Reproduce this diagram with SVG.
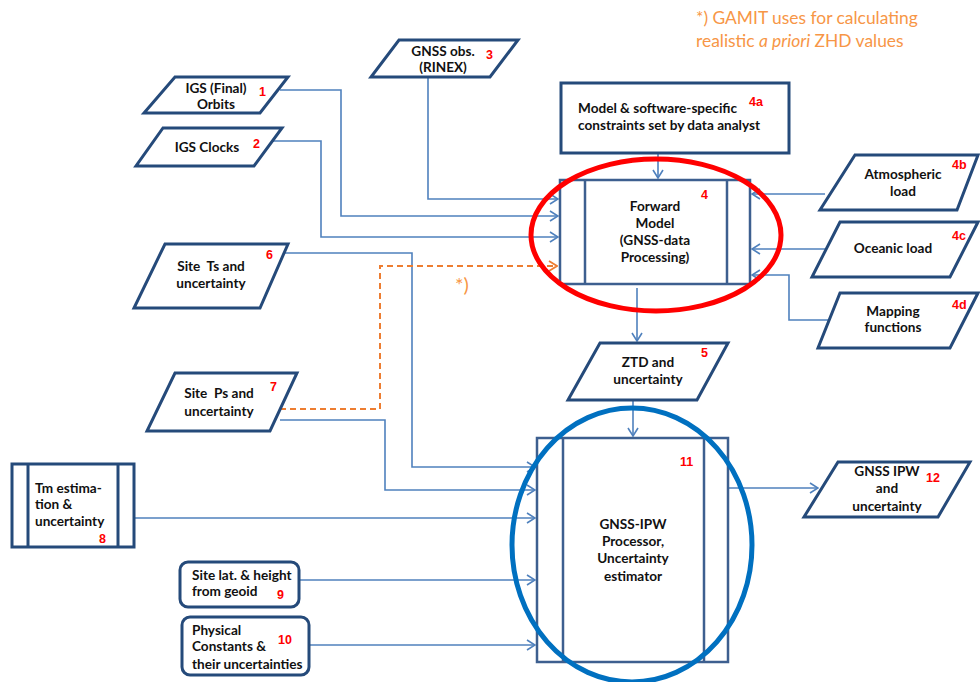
<svg xmlns="http://www.w3.org/2000/svg" width="980" height="682" viewBox="0 0 980 682">
<style>
.n{fill:#fff;stroke:#254A7A;stroke-width:3;stroke-linejoin:miter}
.b{fill:none;stroke:#3D5F8F;stroke-width:2.5}
.t{font-family:Lato,"Liberation Sans",sans-serif;font-weight:bold;font-size:13.6px;fill:#111}
.c{text-anchor:middle}
.r{font-family:"Liberation Sans",sans-serif;font-weight:bold;font-size:12.5px;fill:#FF0000}
.e{fill:none;stroke:#4F81BD;stroke-width:1.6}
.o{fill:none;stroke:#ED7D31;stroke-width:2;stroke-dasharray:6,4}
.note{font-family:Lato,"Liberation Sans",sans-serif;font-size:17.4px;fill:#F79646}
</style>
<defs>
<marker id="a" markerWidth="10" markerHeight="12" refX="9" refY="6" orient="auto" markerUnits="userSpaceOnUse"><path d="M1,1 L9,6 L1,11" fill="none" stroke="#4F81BD" stroke-width="1.6"/></marker>
<marker id="ao" markerWidth="10" markerHeight="12" refX="9" refY="6" orient="auto" markerUnits="userSpaceOnUse"><path d="M1,1 L9,6 L1,11" fill="none" stroke="#ED7D31" stroke-width="1.8"/></marker>
</defs>

<g id="note">
<text class="note" x="696" y="24">*) GAMIT uses for calculating</text>
<text class="note" x="696" y="47">realistic <tspan font-style="italic">a priori</tspan> ZHD values</text>
</g>

<g id="connectors">
<path class="e" d="M280,90 H341 V216 H558" marker-end="url(#a)"/>
<path class="e" d="M272,141 H321 V237 H558" marker-end="url(#a)"/>
<path class="e" d="M428,77 V199 H558" marker-end="url(#a)"/>
<path class="e" d="M658,153 V178" marker-end="url(#a)"/>
<path class="e" d="M825,194 H752" marker-end="url(#a)"/>
<path class="e" d="M825,249 H752" marker-end="url(#a)"/>
<path class="e" d="M830,320 H789 V275 H752" marker-end="url(#a)"/>
<path class="e" d="M637,288 V341" marker-end="url(#a)"/>
<path class="e" d="M633,400 V436" marker-end="url(#a)"/>
<path class="e" d="M285,253 H412 V467 H535" marker-end="url(#a)"/>
<path class="e" d="M280,420 H385 V490 H535" marker-end="url(#a)"/>
<path class="e" d="M134,518 H535" marker-end="url(#a)"/>
<path class="e" d="M296,580 H535" marker-end="url(#a)"/>
<path class="e" d="M309,645 H535" marker-end="url(#a)"/>
<path class="e" d="M728,488 H818" marker-end="url(#a)"/>
<path class="o" d="M280,409 H380 V266 H557" marker-end="url(#ao)"/>
<text x="462" y="292" font-family="Lato,'Liberation Sans',sans-serif" font-size="20" fill="#F79646" text-anchor="middle">*)</text>
</g>

<g id="n1">
<polygon class="n" points="175,77 288,77 260,113 144,113"/>
<text class="t c" x="216" y="93">IGS (Final)</text>
<text class="t c" x="216" y="109">Orbits</text>
<text class="r" x="259" y="96">1</text>
</g>
<g id="n2">
<polygon class="n" points="163,128 282,128 254,166 136,166"/>
<text class="t c" x="207" y="152">IGS Clocks</text>
<text class="r" x="253" y="148">2</text>
</g>
<g id="n3">
<polygon class="n" points="399,40 518,40 490,77 371,77"/>
<text class="t c" x="443" y="56">GNSS obs.</text>
<text class="t c" x="443" y="72">(RINEX)</text>
<text class="r" x="486" y="59">3</text>
</g>
<g id="n4a">
<rect class="n" x="561" y="83" width="228" height="70"/>
<text class="t" x="578" y="113">Model &amp; software-specific</text>
<text class="t" x="578" y="130">constraints set by data analyst</text>
<text class="r" x="749" y="106" font-size="11">4a</text>
</g>
<g id="n4">
<rect class="b" x="560" y="180" width="190" height="104"/>
<line class="b" x1="585" y1="180" x2="585" y2="284"/>
<line class="b" x1="727" y1="180" x2="727" y2="284"/>
<text class="t c" x="655" y="211">Forward</text>
<text class="t c" x="655" y="228">Model</text>
<text class="t c" x="655" y="245">(GNSS-data</text>
<text class="t c" x="655" y="262">Processing)</text>
<text class="r" x="701" y="199">4</text>
<ellipse cx="656" cy="235" rx="125" ry="76" fill="none" stroke="#FF0000" stroke-width="5"/>
</g>
<g id="n4b">
<polygon class="n" points="855,155 978,155 957,210 820,210"/>
<text class="t c" x="903" y="179">Atmospheric</text>
<text class="t c" x="903" y="196">load</text>
<text class="r" x="952" y="169">4b</text>
</g>
<g id="n4c">
<polygon class="n" points="840,222 978,222 950,277 812,277"/>
<text class="t c" x="893" y="253">Oceanic load</text>
<text class="r" x="952" y="240">4c</text>
</g>
<g id="n4d">
<polygon class="n" points="840,293 978,293 950,348 818,348"/>
<text class="t c" x="893" y="316">Mapping</text>
<text class="t c" x="893" y="332">functions</text>
<text class="r" x="952" y="309">4d</text>
</g>
<g id="n5">
<polygon class="n" points="600,343 728,343 697,400 568,400"/>
<text class="t c" x="648" y="367">ZTD and</text>
<text class="t c" x="648" y="384">uncertainty</text>
<text class="r" x="701" y="357">5</text>
</g>
<g id="n6">
<polygon class="n" points="165,244 288,244 260,308 134,308"/>
<text class="t c" x="211" y="271">Site&#160; Ts and</text>
<text class="t c" x="211" y="288">uncertainty</text>
<text class="r" x="266" y="259">6</text>
</g>
<g id="n7">
<polygon class="n" points="175,373 297,373 270,431 147,431"/>
<text class="t c" x="219" y="398">Site&#160; Ps and</text>
<text class="t c" x="219" y="416">uncertainty</text>
<text class="r" x="270" y="391">7</text>
</g>
<g id="n8">
<rect class="n" x="12" y="464" width="122" height="83"/>
<line class="n" x1="28" y1="464" x2="28" y2="547"/>
<line class="n" x1="118" y1="464" x2="118" y2="547"/>
<text class="t" x="35" y="493">Tm estima-</text>
<text class="t" x="35" y="509">tion &amp;</text>
<text class="t" x="35" y="526">uncertainty</text>
<text class="r" x="99" y="543">8</text>
</g>
<g id="n9">
<rect class="n" x="180" y="562" width="119" height="45" rx="8"/>
<text class="t" x="192" y="580">Site lat. &amp; height</text>
<text class="t" x="192" y="596">from geoid</text>
<text class="r" x="277" y="599">9</text>
</g>
<g id="n10">
<rect class="n" x="182" y="617" width="127" height="58" rx="8"/>
<text class="t" x="192" y="635">Physical</text>
<text class="t" x="192" y="651">Constants &amp;</text>
<text class="t" x="192" y="669">their uncertainties</text>
<text class="r" x="278" y="644">10</text>
</g>
<g id="n11">
<rect class="b" x="537" y="438" width="191" height="224"/>
<line class="b" x1="563" y1="438" x2="563" y2="662"/>
<line class="b" x1="704" y1="438" x2="704" y2="662"/>
<text class="t c" x="633" y="529">GNSS-IPW</text>
<text class="t c" x="633" y="546">Processor,</text>
<text class="t c" x="633" y="563">Uncertainty</text>
<text class="t c" x="633" y="581">estimator</text>
<text class="r" x="680" y="466">11</text>
<ellipse cx="632" cy="545" rx="120" ry="137" fill="none" stroke="#0070C0" stroke-width="5"/>
</g>
<g id="n12">
<polygon class="n" points="838,462 970,462 938,517 804,517"/>
<text class="t c" x="887" y="476">GNSS IPW</text>
<text class="t c" x="887" y="493">and</text>
<text class="t c" x="887" y="511">uncertainty</text>
<text class="r" x="926" y="482">12</text>
</g>
</svg>
